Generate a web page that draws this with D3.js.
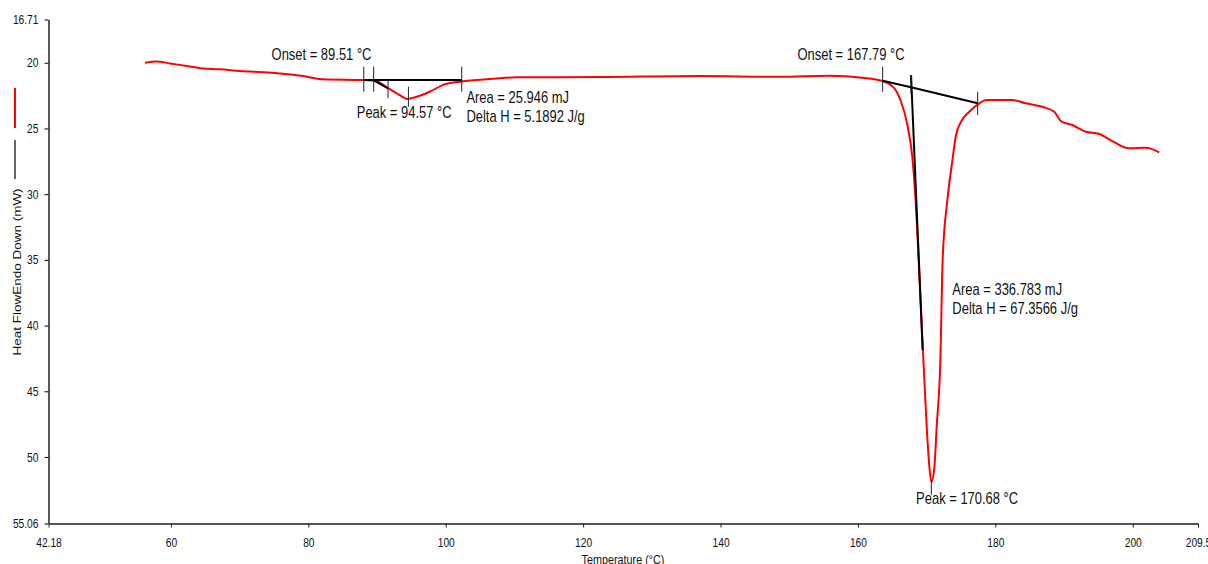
<!DOCTYPE html>
<html>
<head>
<meta charset="utf-8">
<script src="https://cdn.jsdelivr.net/npm/d3@7"></script>
<style>
body { margin: 0; background: #fff; }
text { font-family: Arial, "Liberation Sans", sans-serif; }
</style>
</head>
<body>
<script>
var width = 1208;
var height = 564;

// DSC trace, temperature (°C) vs heat flow (mW), endo down
var temperature = [56.22, 57.92, 59.85, 62.28, 64.65, 67.13, 70.03, 73.42, 75.85, 79.20, 82.11, 87.93,
  89.67, 91.56, 93.31, 94.33, 95.78, 97.67, 99.56, 102.03, 105.96, 110.33, 122.40, 136.94, 148.58,
  155.85, 160.65, 163.56, 165.31, 166.28, 167.20, 167.93, 168.40, 168.84, 169.53, 170.01, 170.40,
  170.69, 171.13, 171.46, 172.00, 172.33, 173.02, 173.70, 174.28, 175.01, 176.22, 177.67, 178.65,
  182.47, 184.46, 186.83, 188.58, 189.55, 191.20, 193.19, 195.13, 197.02, 199.49, 201.92, 203.85];
var heatFlow = [20.00, 19.90, 20.05, 20.25, 20.43, 20.50, 20.63, 20.73, 20.81, 21.01, 21.26, 21.32,
  21.35, 21.92, 22.46, 22.75, 22.59, 22.21, 21.70, 21.45, 21.26, 21.11, 21.09, 21.01, 21.07,
  20.99, 21.14, 21.39, 21.95, 22.97, 24.74, 27.25, 30.45, 35.01, 42.62, 47.72, 50.76,
  51.90, 50.76, 47.72, 42.62, 35.01, 30.45, 27.63, 25.50, 24.49, 23.73, 23.09, 22.84,
  22.84, 23.09, 23.35, 23.73, 24.44, 24.74, 25.25, 25.42, 25.96, 26.51, 26.47, 26.82];

var xTicks = [42.18, 60, 80, 100, 120, 140, 160, 180, 200, 209.5];
var yTicks = [16.71, 20, 25, 30, 35, 40, 45, 50, 55.06];

// black construction lines: baselines and onset tangents
var fitLines = [
  [[87.93, 21.32], [102.33, 21.32]],
  [[89.51, 21.35], [91.60, 21.95]],
  [[163.60, 21.37], [167.73, 21.87], [177.43, 23.09]],
  [[167.73, 20.94], [169.42, 41.86]]
];

// vertical markers: temperature, top, bottom
var markers = [
  [88.07, 20.30, 22.21],
  [89.51, 20.30, 22.21],
  [91.60, 21.32, 22.69],
  [94.57, 21.83, 23.35],
  [102.33, 20.30, 22.21],
  [163.60, 20.30, 22.21],
  [167.73, 20.94, 22.40],
  [177.43, 22.21, 23.98],
  [170.68, 51.75, 52.89]
];

// annotation text and where it sits (temperature, heat flow)
var noteText = ["Onset = 89.51 °C", "Peak = 94.57 °C", "Area = 25.946 mJ", "Delta H = 5.1892 J/g",
  "Onset = 167.79 °C", "Area = 336.783 mJ", "Delta H = 67.3566 J/g", "Peak = 170.68 °C"];
var noteT = [74.65, 87.05, 103.01, 103.01, 151.20, 173.74, 173.74, 168.47];
var noteH = [19.79, 24.23, 23.09, 24.49, 19.79, 37.67, 39.12, 53.58];

var svg = d3.select("body")
    .append("svg")
    .attr("width", width)
    .attr("height", height)
    .style("display", "block")
    .style("background", "#fff");

var x = d3.scaleLinear().domain([42.18, 209.5]).range([48.5, 1198]);
var y = d3.scaleLinear().domain([16.71, 55.06]).range([19.5, 523.5]);

// axes
var yAxis = svg.append("g")
    .attr("transform", "translate(" + x(42.18) + ",0)")
    .call(d3.axisLeft(y).tickValues(yTicks).tickSize(4).tickSizeOuter(0).tickFormat(function (d) { return d; }));
yAxis.select(".domain").attr("stroke", "#000").attr("stroke-width", 1.3);
yAxis.selectAll(".tick line").attr("stroke", "#000");
yAxis.selectAll("text")
    .attr("x", 0)
    .attr("font-size", 12.8)
    .attr("font-family", "Arial, 'Liberation Sans', sans-serif")
    .attr("fill", "#111")
    .attr("transform", "translate(-10,0) scale(0.8,1)");

var xAxis = svg.append("g")
    .attr("transform", "translate(0," + y(55.06) + ")")
    .call(d3.axisBottom(x).tickValues(xTicks).tickSize(4).tickSizeOuter(0).tickFormat(function (d) { return d; }));
xAxis.select(".domain").attr("stroke", "#555").attr("stroke-width", 1.8);
xAxis.selectAll(".tick line").attr("stroke", "#222");
xAxis.selectAll(".tick text")
    .attr("y", 14.5)
    .attr("font-size", 12.8)
    .attr("font-family", "Arial, 'Liberation Sans', sans-serif")
    .attr("fill", "#111")
    .attr("transform", "scale(0.8,1)");

// axis titles (the x title is cut by the bottom edge, as in the source)
svg.append("text")
    .attr("transform", "translate(623,564) scale(0.8,1)")
    .attr("text-anchor", "middle")
    .attr("font-size", 13.5)
    .attr("fill", "#111")
    .text("Temperature (°C)");

svg.append("text")
    .attr("transform", "translate(21,272) rotate(-90) scale(1,0.8)")
    .attr("text-anchor", "middle")
    .attr("font-size", 13.5)
    .attr("fill", "#111")
    .text("Heat FlowEndo Down (mW)");

// legend strokes beside the y title
svg.append("line").attr("x1", 15).attr("x2", 15).attr("y1", 88).attr("y2", 128)
    .style("stroke", "red").style("stroke-width", 2);
svg.append("line").attr("x1", 15).attr("x2", 15).attr("y1", 140).attr("y2", 179)
    .style("stroke", "black").style("stroke-width", 1.2);

// DSC curve
var points = temperature.map(function (t, i) { return [t, heatFlow[i]]; });
var line = d3.line()
    .x(function (d) { return x(d[0]); })
    .y(function (d) { return y(d[1]); });

svg.append("path")
    .datum(points)
    .attr("d", line.curve(d3.curveMonotoneX))
    .style("fill", "none")
    .style("stroke", "red")
    .style("stroke-width", 2);

// construction lines
var fits = svg.append("g");
fitLines.forEach(function (seg) {
    fits.append("path")
        .datum(seg)
        .attr("d", d3.line().x(function (d) { return x(d[0]); }).y(function (d) { return y(d[1]); }))
        .style("fill", "none")
        .style("stroke", "black")
        .style("stroke-width", 2);
});
fits.selectAll("line.mark")
    .data(markers)
    .enter().append("line")
    .attr("class", "mark")
    .attr("x1", function (d) { return x(d[0]); })
    .attr("x2", function (d) { return x(d[0]); })
    .attr("y1", function (d) { return y(d[1]); })
    .attr("y2", function (d) { return y(d[2]); })
    .style("stroke", "#222")
    .style("stroke-width", 1);

// annotations
svg.append("g")
    .selectAll("text")
    .data(noteText)
    .enter().append("text")
    .attr("transform", function (d, i) { return "translate(" + x(noteT[i]) + "," + y(noteH[i]) + ") scale(0.81,1)"; })
    .attr("font-size", 16)
    .attr("fill", "#111")
    .text(function (d) { return d; });
</script>
</body>
</html>
